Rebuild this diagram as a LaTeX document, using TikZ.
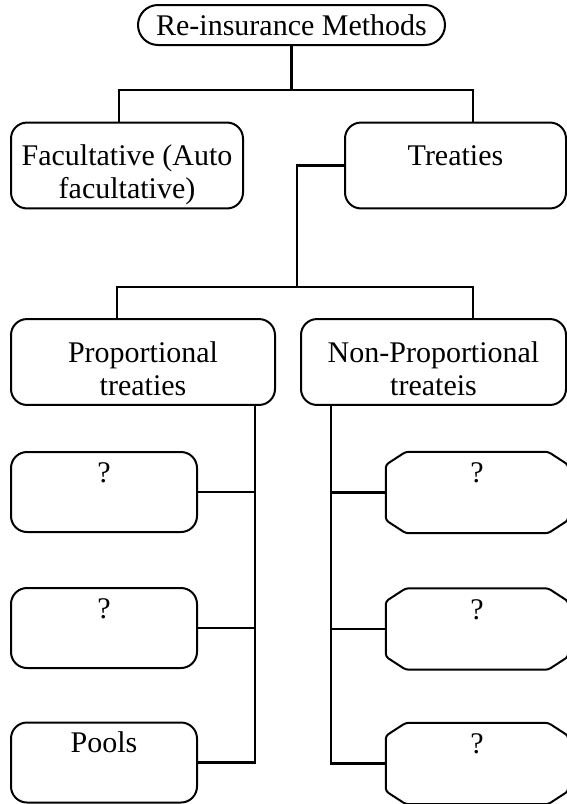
\documentclass[tikz,border=0pt]{standalone}
\usepackage{fontspec}
\setmainfont{Liberation Serif}
\newcommand{\tallstrut}{\rule{0pt}{43pt}}
\tikzset{
  rootbox/.style={draw, line width=2pt, rounded corners=20pt, minimum width=307pt,
                  minimum height=40pt, inner sep=0pt, font=\fontsize{30}{33}\selectfont},
  rmbox/.style={draw, line width=2pt, rounded corners=16pt, align=center,
                inner sep=0pt, font=\fontsize{30}{33}\selectfont},
  leafbox/.style={rmbox, minimum width=186pt, minimum height=80pt},
  chambox/.style={align=center, inner sep=0pt, minimum width=182pt, minimum height=81pt,
                  font=\fontsize{30}{33}\selectfont},
  chamline/.style={line width=2pt, rounded corners=3pt},
  conn/.style={line width=2.2pt}
}
\begin{document}
\begin{tikzpicture}[x=1pt, y=-1pt]
\useasboundingbox (0,0) rectangle (567,804);
% upper levels
\node[rootbox] (root) at (291.5,25) {Re-insurance Methods};
\node[rmbox, minimum width=232pt, minimum height=83pt] (facult) at (127,165.5) {\tallstrut Facultative (Auto\\\strut facultative)};
\node[rmbox, minimum width=221pt, minimum height=83pt] (treaties) at (455.5,165.5) {\tallstrut Treaties\\\strut};
\node[rmbox, minimum width=264pt, minimum height=80pt] (prop) at (143,362) {\tallstrut Proportional\\\strut treaties};
\node[rmbox, minimum width=265pt, minimum height=80pt] (nonprop) at (433.5,362) {\tallstrut Non-Proportional\\\strut treateis};
% leaves
\foreach \y/\n/\t in {492/p1/?, 628/p2/?, 762.5/pools/Pools}
  \node[leafbox] (\n) at (104,\y) {\strut\t\\\strut};
\foreach \y/\n in {492.5/n1, 629/n2, 763.5/n3}{
  \node[chambox] (\n) at (477,\y) {\strut ?\\\strut};
  \draw[chamline] ([xshift=20pt]\n.north west) -- ([xshift=-20pt]\n.north east)
    -- ([yshift=-13pt]\n.north east) -- ([yshift=13pt]\n.south east)
    -- ([xshift=-20pt]\n.south east) -- ([xshift=20pt]\n.south west)
    -- ([yshift=13pt]\n.south west) -- ([yshift=-13pt]\n.north west) -- cycle;
}
% buses
\coordinate (mL) at (119,90);
\coordinate (mR) at (473,90);
\coordinate (sM) at (297,287);
\coordinate (sL) at (117,287);
\coordinate (sR) at (473,287);
\coordinate (pB) at (255,762.5);
\coordinate (nB) at (331,763.5);
\draw[conn] (root) -- (root |- mL);
\draw[conn] (mL |- facult.north) -- (mL) -- (mR) -- (mR |- treaties.north);
\draw[conn] (treaties.west) -| (sM);
\draw[conn] (sL |- prop.north) -- (sL) -- (sR) -- (sR |- nonprop.north);
\draw[conn] (prop.south -| pB) -- (pB) -- (pools.east);
\draw[conn] (nonprop.south -| nB) -- (nB) -- (n3.west);
\foreach \n in {p1,p2}
  \draw[conn] (\n.east) -- (\n.east -| pB);
\foreach \n in {n1,n2}
  \draw[conn] (\n.west) -- (\n.west -| nB);
\end{tikzpicture}
\end{document}
